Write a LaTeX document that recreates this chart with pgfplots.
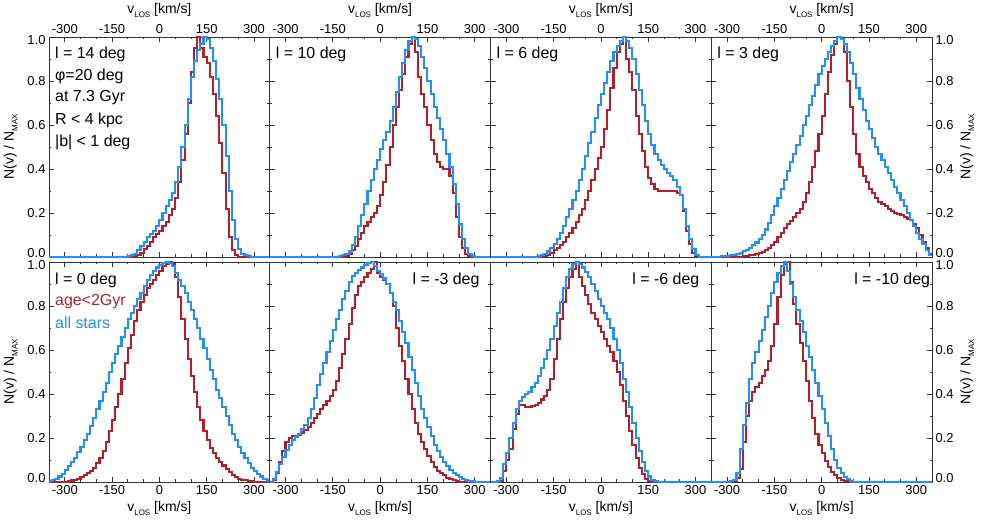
\documentclass[border=0pt]{standalone}
\usepackage{pgfplots}
\pgfplotsset{compat=1.18}
\usepackage{pgfplotstable}
\usepackage{fontspec}
\setmainfont{Liberation Sans}
\definecolor{agered}{RGB}{185,30,40}
\definecolor{allblue}{RGB}{30,144,255}

\pgfplotstableread[header=false]{
v -350 -340 -330 -320 -310 -300 -290 -280 -270 -260 -250 -240 -230 -220 -210 -200 -190 -180 -170 -160 -150 -140 -130 -120 -110 -100 -90 -80 -70 -60 -50 -40 -30 -20 -10 0 10 20 30 40 50 60 70 80 90 100 110 120 130 140 150 160 170 180 190 200 210 220 230 240 250 260 270 280 290 300 310 320 330 340 350
b14 0 0 0 0 0 0 0 0 0 0  0 0 0 0 0 0 0 0 0 0  0 0 0 0 0 0.005 0.01 0.015 0.03 0.05  0.07 0.09 0.105 0.12 0.14 0.17 0.2 0.23 0.26 0.29  0.34 0.41 0.5 0.6 0.72 0.82 0.89 0.94 0.97 1.0  0.99 0.95 0.89 0.81 0.72 0.6 0.46 0.3 0.17 0.08  0.035 0.015 0.008 0.003 0 0 0 0 0 0  0
r14 0 0 0 0 0 0 0 0 0 0  0 0 0 0 0 0 0 0 0 0  0 0 0 0 0 0 0 0.005 0.01 0.02  0.035 0.05 0.07 0.09 0.105 0.12 0.14 0.16 0.19 0.22  0.27 0.34 0.44 0.56 0.7 0.84 0.95 1.0 0.95 0.91  0.88 0.82 0.74 0.64 0.52 0.38 0.22 0.09 0.03 0.008  0 0 0 0 0 0 0 0 0 0  0
b10 0 0 0 0 0 0 0 0 0 0  0 0 0 0 0 0 0 0 0 0  0 0 0.003 0.008 0.015 0.025 0.055 0.09 0.14 0.19  0.24 0.3 0.35 0.4 0.44 0.49 0.53 0.57 0.62 0.68  0.75 0.82 0.88 0.94 0.98 1.0 0.99 0.96 0.91 0.86  0.8 0.74 0.68 0.63 0.58 0.53 0.47 0.41 0.33 0.24  0.15 0.08 0.04 0.015 0.005 0 0 0 0 0  0
r10 0 0 0 0 0 0 0 0 0 0  0 0 0 0 0 0 0 0 0 0  0 0 0 0 0.005 0.015 0.03 0.05 0.08 0.11  0.14 0.16 0.18 0.2 0.23 0.28 0.34 0.42 0.5 0.6  0.68 0.76 0.83 0.91 0.97 1.0 0.93 0.82 0.74 0.68  0.6 0.53 0.47 0.43 0.41 0.4 0.4 0.37 0.29 0.18  0.09 0.04 0.015 0.005 0 0 0 0 0 0  0
b6 0 0 0 0 0 0 0 0 0 0  0 0 0 0 0 0.003 0.008 0.015 0.025 0.04  0.06 0.08 0.11 0.14 0.18 0.22 0.26 0.3 0.35 0.4  0.46 0.52 0.57 0.63 0.69 0.74 0.79 0.84 0.89 0.93  0.96 0.98 1.0 0.98 0.95 0.9 0.83 0.76 0.69 0.62  0.56 0.51 0.47 0.44 0.42 0.4 0.38 0.37 0.35 0.32  0.28 0.22 0.14 0.08 0.035 0.01 0 0 0 0  0
r6 0 0 0 0 0 0 0 0 0 0  0 0 0 0 0 0 0 0.005 0.01 0.02  0.03 0.04 0.055 0.07 0.09 0.11 0.13 0.16 0.19 0.22  0.26 0.3 0.35 0.4 0.45 0.5 0.58 0.67 0.77 0.86  0.93 0.97 1.0 0.9 0.84 0.76 0.64 0.56 0.48 0.41  0.36 0.33 0.31 0.3 0.3 0.3 0.3 0.3 0.3 0.29  0.28 0.21 0.12 0.06 0.02 0.005 0 0 0 0  0
b3 0 0.001 0.002 0.003 0.004 0.006 0.008 0.011 0.015 0.02  0.026 0.033 0.042 0.053 0.066 0.082 0.1 0.125 0.155 0.19  0.23 0.27 0.31 0.35 0.39 0.43 0.47 0.51 0.55 0.6  0.64 0.69 0.73 0.78 0.83 0.87 0.9 0.93 0.96 0.98  1.0 0.99 0.97 0.93 0.88 0.83 0.77 0.72 0.67 0.62  0.58 0.54 0.5 0.47 0.44 0.41 0.38 0.35 0.32 0.29  0.26 0.23 0.2 0.17 0.14 0.11 0.08 0.06 0.03 0.01  0.01
r3 0 0 0 0 0 0 0 0 0 0.002  0.004 0.006 0.008 0.01 0.013 0.017 0.022 0.03 0.04 0.055  0.07 0.09 0.11 0.13 0.15 0.165 0.18 0.2 0.22 0.25  0.29 0.34 0.41 0.48 0.56 0.64 0.74 0.84 0.92 0.97  1.0 0.99 0.93 0.8 0.68 0.56 0.47 0.41 0.37 0.34  0.31 0.29 0.27 0.25 0.24 0.23 0.22 0.21 0.2 0.195  0.19 0.18 0.175 0.17 0.15 0.13 0.1 0.07 0.04 0.015  0.015
b0 0.003 0.008 0.015 0.025 0.038 0.055 0.072 0.09 0.11 0.135  0.16 0.19 0.22 0.255 0.29 0.33 0.37 0.41 0.45 0.5  0.54 0.58 0.62 0.66 0.7 0.74 0.77 0.8 0.83 0.86  0.89 0.92 0.94 0.96 0.975 0.985 0.995 1.0 0.995 0.98  0.95 0.92 0.89 0.86 0.82 0.78 0.74 0.7 0.65 0.61  0.56 0.51 0.47 0.42 0.38 0.34 0.3 0.26 0.22 0.19  0.16 0.13 0.11 0.085 0.065 0.05 0.035 0.025 0.015 0.007  0.007
r0 0 0 0 0 0 0.002 0.004 0.007 0.01 0.015  0.022 0.03 0.04 0.05 0.065 0.085 0.11 0.14 0.18 0.23  0.28 0.34 0.4 0.47 0.54 0.61 0.67 0.73 0.78 0.82  0.85 0.88 0.9 0.92 0.94 0.96 0.98 0.99 1.0 0.99  0.93 0.84 0.74 0.65 0.56 0.48 0.41 0.34 0.28 0.23  0.19 0.155 0.13 0.11 0.09 0.075 0.058 0.044 0.032 0.023  0.015 0.011 0.008 0.005 0.003 0.002 0 0 0 0  0
bm3 0 0.015 0.045 0.08 0.115 0.145 0.17 0.19 0.205 0.22  0.24 0.26 0.29 0.33 0.38 0.44 0.49 0.54 0.59 0.64  0.69 0.74 0.78 0.83 0.87 0.91 0.935 0.95 0.965 0.975  0.985 0.995 1.0 0.98 0.96 0.945 0.925 0.9 0.86 0.82  0.78 0.73 0.68 0.63 0.57 0.51 0.45 0.39 0.33 0.29  0.25 0.21 0.17 0.14 0.115 0.09 0.072 0.055 0.04 0.03  0.022 0.015 0.01 0.006 0.003 0 0 0 0 0  0
rm3 0 0.01 0.04 0.09 0.14 0.18 0.2 0.21 0.21 0.215  0.225 0.235 0.25 0.27 0.29 0.31 0.33 0.35 0.37 0.39  0.42 0.46 0.52 0.58 0.65 0.72 0.79 0.85 0.89 0.91  0.93 0.95 0.97 1.0 0.95 0.93 0.92 0.9 0.86 0.8  0.7 0.62 0.55 0.47 0.4 0.33 0.27 0.22 0.18 0.15  0.12 0.09 0.07 0.05 0.04 0.03 0.02 0.014 0.009 0.005  0.002 0 0 0 0 0 0 0 0 0  0
bm6 0 0 0.005 0.02 0.08 0.13 0.2 0.27 0.33 0.37  0.385 0.4 0.41 0.43 0.45 0.48 0.52 0.56 0.6 0.65  0.71 0.77 0.82 0.88 0.93 0.97 0.99 1.0 0.99 0.975  0.955 0.93 0.9 0.87 0.83 0.8 0.77 0.74 0.7 0.65  0.6 0.54 0.47 0.41 0.34 0.27 0.2 0.14 0.09 0.05  0.025 0.01 0.004 0.001 0 0 0 0 0 0  0 0 0 0 0 0 0 0 0 0  0
rm6 0 0 0 0.005 0.05 0.1 0.15 0.24 0.31 0.35  0.35 0.34 0.34 0.345 0.35 0.36 0.375 0.39 0.42 0.47  0.56 0.65 0.74 0.82 0.88 0.93 0.97 1.0 0.93 0.89  0.85 0.81 0.77 0.74 0.71 0.68 0.65 0.62 0.59 0.55  0.5 0.44 0.37 0.3 0.23 0.17 0.11 0.065 0.035 0.015  0.006 0.002 0 0 0 0 0 0 0 0  0 0 0 0 0 0 0 0 0 0  0
bm10 0 0 0 0 0 0 0.003 0.01 0.04 0.15  0.26 0.36 0.47 0.54 0.59 0.64 0.69 0.75 0.8 0.86  0.91 0.95 0.98 1.0 0.96 0.9 0.84 0.78 0.73 0.68  0.62 0.57 0.51 0.45 0.39 0.33 0.27 0.21 0.15 0.1  0.065 0.04 0.022 0.012 0.006 0.002 0 0 0 0  0 0 0 0 0 0 0 0 0 0  0 0 0 0 0 0 0 0 0 0  0
rm10 0 0 0 0 0 0 0 0.005 0.02 0.06  0.18 0.3 0.37 0.41 0.43 0.45 0.48 0.51 0.55 0.62  0.72 0.84 0.94 0.99 1.0 0.91 0.81 0.72 0.63 0.55  0.46 0.37 0.29 0.22 0.17 0.13 0.095 0.068 0.047 0.03  0.019 0.011 0.006 0.003 0.001 0 0 0 0 0  0 0 0 0 0 0 0 0 0 0  0 0 0 0 0 0 0 0 0 0  0
}\rawdata
\pgfplotstabletranspose[colnames from=0]{\histdata}{\rawdata}

\newcommand{\vlos}{v\raisebox{-0.5ex}{\fontsize{8}{8}\selectfont LOS}\ [km/s]}
\newcommand{\nlab}{N(v) / N\raisebox{-0.5ex}{\fontsize{8}{8}\selectfont MAX}}

\tikzset{txt/.style={font=\fontsize{16}{16}\selectfont, inner sep=0pt}}

\pgfplotsset{
  hist/.style={scale only axis, width=220.75bp, height=220bp,
    xmin=-350, xmax=350, ymin=0, ymax=1,
    xtick={-300,-150,0,150,300}, xticklabels={-300,-150,0,150,300},
    ytick={0,0.2,0.4,0.6,0.8,1},
    yticklabels={{\raisebox{3.5bp}[\height][\depth]{0.0}},0.2,0.4,0.6,0.8,{\raisebox{-3bp}[\height][\depth]{1.0}}},
    minor x tick num=2, minor y tick num=1,
    tick align=inside, major tick length=5bp, minor tick length=2.5bp,
    axis line style={black!80, line width=0.9bp},
    every tick/.append style={black!80, line width=0.7bp},
    tick label style={font=\fontsize{13}{13}\selectfont, black},
    label style={font=\fontsize{14}{14}\selectfont},
    /pgf/number format/assume math mode=true,
    clip=false},
  toprow/.style={xticklabel pos=right, xtick pos=both, xlabel={\vlos}},
  botrow/.style={xticklabel pos=left, xtick pos=both, xlabel={\vlos}},
  leftcol/.style={yticklabel pos=left, ytick pos=both, ylabel={\nlab}, ylabel style={xshift=0bp, yshift=3bp}},
  midcol/.style={yticklabels={}, ytick pos=both},
  rightcol/.style={yticklabel pos=right, ytick pos=both, ylabel={\nlab}},
  rh/.style={const plot mark left, no markers, agered, line width=2.1bp, line join=miter},
  bh/.style={const plot mark left, no markers, allblue, line width=2.1bp, line join=miter},
}

\begin{document}
\begin{tikzpicture}
\useasboundingbox (0,0) rectangle (981bp,525bp);
% top row
\begin{axis}[hist, toprow, leftcol, at={(49bp,268bp)}, anchor=south west]
\addplot[rh] table[x=v,y=r14]{\histdata};
\addplot[bh] table[x=v,y=b14]{\histdata};
\node[txt, anchor=west] at (rel axis cs:0.027,0.923) {l = 14 deg};
\node[txt, anchor=west] at (rel axis cs:0.027,0.823) {φ=20 deg};
\node[txt, anchor=west] at (rel axis cs:0.027,0.723) {at 7.3 Gyr};
\node[txt, anchor=west] at (rel axis cs:0.027,0.623) {R < 4 kpc};
\node[txt, anchor=west] at (rel axis cs:0.027,0.523) {|b| < 1 deg};
\end{axis}
\begin{axis}[hist, toprow, midcol, at={(269.75bp,268bp)}, anchor=south west]
\addplot[rh] table[x=v,y=r10]{\histdata};
\addplot[bh] table[x=v,y=b10]{\histdata};
\node[txt, anchor=west] at (rel axis cs:0.027,0.923) {l = 10 deg};
\end{axis}
\begin{axis}[hist, toprow, midcol, at={(490.5bp,268bp)}, anchor=south west]
\addplot[rh] table[x=v,y=r6]{\histdata};
\addplot[bh] table[x=v,y=b6]{\histdata};
\node[txt, anchor=west] at (rel axis cs:0.027,0.923) {l = 6 deg};
\end{axis}
\begin{axis}[hist, toprow, rightcol, at={(711.25bp,268bp)}, anchor=south west]
\addplot[rh] table[x=v,y=r3]{\histdata};
\addplot[bh] table[x=v,y=b3]{\histdata};
\node[txt, anchor=west] at (rel axis cs:0.027,0.923) {l = 3 deg};
\end{axis}
% bottom row
\begin{axis}[hist, botrow, leftcol, at={(49bp,43bp)}, anchor=south west]
\addplot[rh] table[x=v,y=r0]{\histdata};
\addplot[bh] table[x=v,y=b0]{\histdata};
\node[txt, anchor=west] at (rel axis cs:0.027,0.918) {l = 0 deg};
\node[txt, anchor=west, text=agered] at (rel axis cs:0.027,0.818) {age<2Gyr};
\node[txt, anchor=west, text=allblue] at (rel axis cs:0.027,0.723) {all stars};
\end{axis}
\begin{axis}[hist, botrow, midcol, at={(269.75bp,43bp)}, anchor=south west]
\addplot[rh] table[x=v,y=rm3]{\histdata};
\addplot[bh] table[x=v,y=bm3]{\histdata};
\node[txt, anchor=east] at (rel axis cs:0.951,0.918) {l = -3 deg};
\end{axis}
\begin{axis}[hist, botrow, midcol, at={(490.5bp,43bp)}, anchor=south west]
\addplot[rh] table[x=v,y=rm6]{\histdata};
\addplot[bh] table[x=v,y=bm6]{\histdata};
\node[txt, anchor=east] at (rel axis cs:0.947,0.918) {l = -6 deg};
\end{axis}
\begin{axis}[hist, botrow, rightcol, at={(711.25bp,43bp)}, anchor=south west]
\addplot[rh] table[x=v,y=rm10]{\histdata};
\addplot[bh] table[x=v,y=bm10]{\histdata};
\node[txt, anchor=east] at (rel axis cs:0.992,0.918) {l = -10 deg};
\end{axis}
\end{tikzpicture}
\end{document}
